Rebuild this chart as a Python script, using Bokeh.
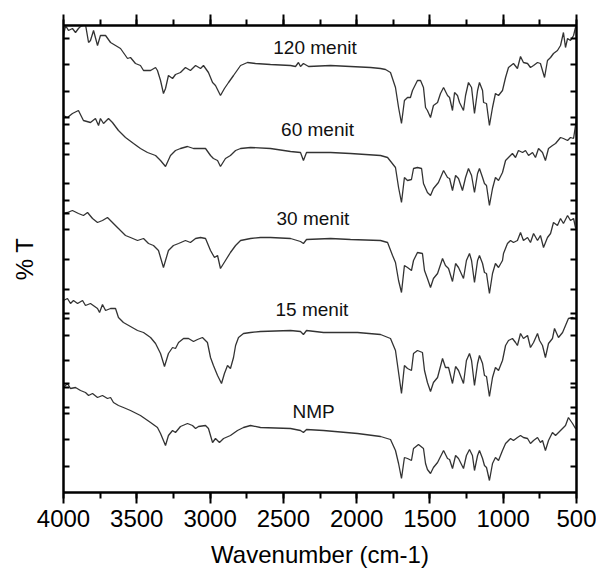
from bokeh.plotting import figure
from bokeh.models import (Range1d, LinearAxis, SingleIntervalTicker, FixedTicker,
                          CustomJSTickFormatter)
from bokeh.core.properties import value
from bokeh.embed import file_html
from bokeh.resources import INLINE

# ---- data (wavenumber cm-1, %T in arbitrary stacked units) ----
wn_120 = [4000,3986,3966,3939,3918,3898,3884,3850,3829,3816,3795,3768,3748,3713,3679,3645,3611,3563,3543,3509,
          3475,3454,3406,3372,3359,3338,3318,3304,3284,3256,3236,3202,3168,3134,3099,3065,3045,3011,2983,2963,
          2929,2902,2874,2840,2792,2745,2690,2588,2451,2417,2397,2383,2363,2328,2178,2042,1905,1837,1803,1769,
          1735,1714,1694,1674,1653,1633,1619,1585,1564,1544,1530,1517,1496,1476,1448,1428,1407,1380,1366,1346,
          1332,1312,1298,1271,1257,1237,1216,1196,1175,1162,1141,1134,1114,1094,1073,1053,1032,1005,984,964,
          930,903,882,862,834,814,793,766,746,718,698,677,657,630,609,589,575,561,541,520,507,500]
t_120 = [457,467,462,464,460,464,466,468,450,452,462,447,457,457,450,447,444,434,435,429,
         427,422,422,425,422,412,399,404,417,414,418,420,425,422,427,424,427,420,410,407,
         397,404,410,417,427,430,429,428,427,426,430,426,429,426,427,426,425,424,423,420,
         405,385,369,392,395,395,402,412,412,405,385,382,375,387,390,399,405,397,395,382,
         400,397,390,382,397,410,405,379,402,410,402,390,389,367,385,399,397,402,415,425,
         429,424,436,430,429,425,427,430,429,415,432,435,439,442,447,460,445,454,452,457,465,470]

wn_60 = [4000,3973,3939,3898,3864,3816,3782,3761,3748,3727,3693,3666,3625,3577,3522,3475,3427,3372,3338,3304,
         3270,3236,3202,3154,3113,3065,3031,2997,2977,2949,2929,2895,2861,2826,2792,2724,2588,2451,2383,2363,
         2342,2178,2042,1837,1789,1735,1714,1694,1674,1653,1626,1612,1585,1557,1544,1517,1496,1476,1442,1407,
         1380,1366,1346,1325,1305,1278,1257,1237,1216,1196,1175,1162,1141,1128,1114,1094,1073,1053,1032,1005,
         984,964,937,916,896,868,848,827,800,780,759,732,712,691,664,643,609,589,561,541,520,507,500]
t_60 = [377,375,379,382,372,370,374,367,374,369,374,370,362,355,349,344,340,337,332,326,
        337,342,344,346,344,344,344,337,334,332,326,334,337,342,344,345,344,341,340,332,
        340,340,339,337,335,325,305,290,315,312,313,324,325,324,309,300,297,304,310,322,
        315,314,302,317,314,302,315,324,317,300,319,324,315,309,307,287,304,315,312,320,
        332,335,339,335,342,340,342,337,340,335,344,340,332,344,347,349,355,354,352,355,354,367,374]

wn_30 = [4000,3973,3939,3898,3864,3836,3802,3768,3734,3700,3666,3625,3577,3543,3495,3454,3420,3386,3352,3318,
         3284,3250,3215,3168,3134,3099,3065,3031,2997,2970,2949,2929,2895,2861,2826,2792,2724,2656,2588,2451,
         2383,2363,2342,2178,2042,1837,1789,1755,1735,1714,1694,1674,1653,1626,1612,1585,1551,1537,1517,1496,
         1476,1448,1414,1394,1373,1346,1325,1305,1271,1251,1230,1216,1196,1175,1162,1141,1128,1114,1094,1073,
         1053,1032,1005,998,971,950,930,903,882,862,834,814,793,766,746,725,698,677,657,630,
         609,589,561,541,520,507,500]
t_30 = [279,280,282,279,277,280,274,270,272,275,270,264,257,255,252,254,249,247,242,225,
        242,247,249,252,250,254,255,254,242,235,237,224,232,240,247,252,254,255,255,254,
        251,249,253,254,253,252,250,237,230,212,200,227,225,222,232,240,239,222,214,205,
        214,219,234,227,224,211,229,225,214,232,239,232,210,232,237,229,220,219,199,219,
        229,225,232,239,249,252,250,252,260,252,255,250,259,252,257,245,255,259,270,267,
        274,269,277,272,274,265,264]

wn_15 = [4000,3973,3952,3932,3904,3870,3850,3816,3768,3754,3734,3713,3679,3645,3625,3591,3543,3495,3454,3406,
         3372,3338,3311,3284,3256,3236,3215,3181,3147,3113,3086,3052,3018,2997,2977,2949,2922,2902,2881,2861,
         2840,2826,2806,2772,2724,2656,2451,2383,2363,2342,2226,1994,1837,1769,1735,1714,1694,1674,1653,1626,
         1612,1585,1551,1537,1517,1496,1476,1448,1414,1394,1373,1346,1325,1305,1271,1251,1230,1216,1196,1175,
         1162,1141,1128,1114,1094,1073,1053,1032,1005,984,964,937,916,903,882,862,834,814,793,766,
         752,732,712,691,664,650,623,595,575,555,527,507,500]
t_15 = [192,194,189,192,189,192,187,189,184,180,188,182,184,184,175,170,166,162,160,155,
        149,139,126,139,145,144,150,154,154,151,153,155,150,135,127,117,109,119,127,124,
        135,147,155,159,160,161,162,161,158,162,160,160,158,154,142,120,99,127,124,122,
        139,142,140,122,110,101,110,115,134,125,125,109,126,122,109,132,139,132,107,129,
        137,129,117,116,96,115,125,122,132,147,152,154,150,147,159,154,157,145,150,159,
        152,147,135,149,154,164,155,160,167,174,175,174,174]

wn_nmp = [4000,3973,3952,3918,3884,3850,3829,3802,3768,3734,3700,3679,3659,3625,3591,3543,3475,3406,3359,3338,
          3304,3284,3256,3236,3202,3154,3120,3099,3079,3031,3011,2983,2963,2936,2908,2861,2813,2772,2724,2656,
          2451,2383,2363,2342,2226,1994,1837,1769,1735,1714,1694,1674,1653,1626,1612,1578,1544,1530,1517,1496,
          1476,1448,1407,1380,1366,1346,1325,1305,1271,1251,1230,1210,1196,1175,1162,1141,1128,1114,1094,1073,
          1053,1032,1005,984,950,930,903,882,862,834,814,793,766,746,732,712,691,664,643,609,
          575,555,527,507,500]
t_nmp = [105,109,104,105,102,100,97,99,95,97,94,95,90,87,85,82,77,70,65,59,
         47,57,62,60,66,69,67,64,66,67,64,50,54,50,54,57,62,65,67,65,
         64,62,60,63,62,59,56,53,42,29,14,35,34,32,44,48,44,29,23,19,
         25,30,42,34,33,24,37,34,24,37,43,37,22,37,42,34,27,25,12,29,
         35,32,42,49,54,52,55,57,55,54,49,52,55,50,52,42,52,60,57,62,
         67,75,69,64,65]

labels = ["120 menit", "60 menit", "30 menit", "15 menit", "NMP"]
label_wn = [2284, 2267, 2298, 2305, 2294]
label_t = [445, 363, 274, 183, 81]

y_ticks = [454, 428, 401, 375, 368, 349, 338, 309, 292, 279, 263, 233, 203,
           179, 174, 157, 132, 109, 105, 85, 79, 53, 26]

FONT = "Liberation Sans"

p = figure(width=596, height=573, output_backend="svg", toolbar_location=None,
           x_range=Range1d(4000, 500), y_range=Range1d(0, 467),
           x_axis_location=None, y_axis_location=None,
           min_border_left=63, min_border_right=20, min_border_top=25, min_border_bottom=81)
p.grid.visible = False
p.outline_line_color = "black"
p.outline_line_width = 2
p.background_fill_color = "white"
p.border_fill_color = "white"

blank = CustomJSTickFormatter(code="return ''")

def style_x(ax):
    ax.axis_line_width = 2
    ax.major_tick_line_width = 2
    ax.minor_tick_line_width = 2
    ax.major_tick_in = 0
    ax.major_tick_out = 11
    ax.minor_tick_in = 0
    ax.minor_tick_out = 6

bottom = LinearAxis(ticker=SingleIntervalTicker(interval=500, num_minor_ticks=2),
                    axis_label="Wavenumber (cm-1)")
style_x(bottom)
bottom.major_label_text_font = FONT
bottom.major_label_text_font_size = "24px"
bottom.major_label_text_color = "black"
bottom.major_label_standoff = 6
bottom.axis_label_text_font = FONT
bottom.axis_label_text_font_size = "24px"
bottom.axis_label_text_font_style = "normal"
bottom.axis_label_text_color = "black"
bottom.axis_label_standoff = 11
p.add_layout(bottom, "below")

top = LinearAxis(ticker=SingleIntervalTicker(interval=500, num_minor_ticks=2), formatter=blank)
style_x(top)
top.major_label_text_font_size = "0px"
top.major_label_standoff = 0
p.add_layout(top, "above")

def style_y(ax):
    ax.axis_line_width = 2
    ax.major_tick_line_width = 2
    ax.major_tick_in = 6
    ax.major_tick_out = 0
    ax.minor_tick_in = 0
    ax.minor_tick_out = 0
    ax.major_label_text_font_size = "0px"

left = LinearAxis(ticker=FixedTicker(ticks=y_ticks, minor_ticks=[]), formatter=blank,
                  axis_label="% T")
style_y(left)
left.axis_label_text_font = FONT
left.axis_label_text_font_size = "24px"
left.axis_label_text_font_style = "normal"
left.axis_label_text_color = "black"
left.axis_label_standoff = 26
p.add_layout(left, "left")

right = LinearAxis(ticker=FixedTicker(ticks=y_ticks, minor_ticks=[]), formatter=blank)
style_y(right)
p.add_layout(right, "right")

line_color = "#333333"
for xs, ys in [(wn_120, t_120), (wn_60, t_60), (wn_30, t_30), (wn_15, t_15), (wn_nmp, t_nmp)]:
    p.line(xs, ys, line_color=line_color, line_width=1.3)

p.text(x=label_wn, y=label_t, text=labels, text_font=value(FONT), text_font_size="19px",
       text_align="center", text_baseline="middle", text_color="#111111")

open("out.html", "w").write(file_html(p, INLINE))
